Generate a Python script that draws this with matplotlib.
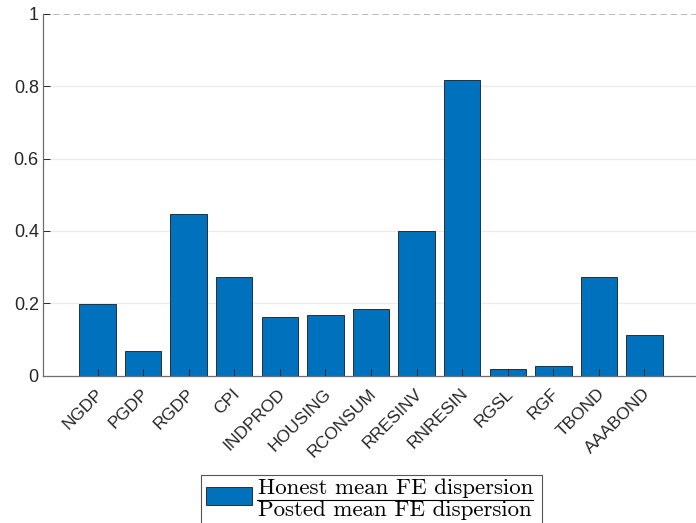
import matplotlib
matplotlib.use("Agg")
import matplotlib.pyplot as plt
import matplotlib.transforms as mtransforms
from matplotlib.patches import Rectangle
from matplotlib.lines import Line2D
import numpy as np

# Series codes along the x axis
categories = ["NGDP", "PGDP", "RGDP", "CPI", "INDPROD", "HOUSING", "RCONSUM",
              "RRESINV", "RNRESIN", "RGSL", "RGF", "TBOND", "AAABOND"]
# Ratio of honest to posted mean forecast-error dispersion
ratio = [0.197, 0.067, 0.448, 0.273, 0.163, 0.167, 0.183,
         0.400, 0.818, 0.018, 0.026, 0.273, 0.112]
yticks = [0, 0.2, 0.4, 0.6, 0.8, 1]
ytick_labels = ["0", "0.2", "0.4", "0.6", "0.8", "1"]
legend_num = "Honest mean FE dispersion"
legend_den = "Posted mean FE dispersion"

plt.rcParams["font.family"] = ["Liberation Sans", "DejaVu Sans"]

BAR_COLOR = "#0072BD"
W, H = 696, 523
fig = plt.figure(figsize=(W / 100, H / 100), dpi=100)
ax = fig.add_axes([43 / W, 147.3 / H, (W - 43) / W, 362 / H])

x = np.arange(1, len(categories) + 1)
ax.bar(x, ratio, width=0.8, color=BAR_COLOR, edgecolor="#1a1a1a",
       linewidth=0.6, zorder=1)

ax.set_xlim(-0.196, 14.13)
ax.set_ylim(0, 1)

# light horizontal grid behind the bars
for yv in yticks[1:-1]:
    ax.axhline(yv, color="#ebebeb", linewidth=1.0, zorder=0.5)
ax.axhline(1, color="#b3b3b3", linewidth=1.3, linestyle=(0, (3.5, 2.2)), zorder=0.6)

ax.set_xticks(x)
ax.set_yticks(yticks)
ax.set_yticklabels(ytick_labels, fontsize=13, color="#262626")
ax.tick_params(axis="both", direction="in", length=5, width=0.7, color="#262626")
ax.tick_params(axis="x", pad=11)
ax.tick_params(axis="y", pad=3)
ax.set_xticklabels(categories, rotation=45, ha="right", va="center",
                   rotation_mode="anchor", fontsize=12.5, color="#262626")
shift = mtransforms.ScaledTranslation(3 / 100, 0, fig.dpi_scale_trans)
for lbl in ax.get_xticklabels():
    lbl.set_transform(lbl.get_transform() + shift)

for side in ("top", "right"):
    ax.spines[side].set_visible(False)
for side in ("left", "bottom"):
    ax.spines[side].set_color("#6e6e6e")
    ax.spines[side].set_linewidth(0.9)


# Legend box with a stacked fraction label, laid out in figure pixels
def fx(px):
    return px / W


def fy(py):
    return 1 - py / H


fig.patches.append(Rectangle((fx(200.5), fy(530)), fx(541.5) - fx(200.5),
                             fy(475) - fy(530), transform=fig.transFigure,
                             facecolor="white", edgecolor="#555555",
                             linewidth=0.8, zorder=3))
fig.patches.append(Rectangle((fx(206), fy(505)), fx(252.3) - fx(206),
                             fy(486.7) - fy(505), transform=fig.transFigure,
                             facecolor=BAR_COLOR, edgecolor="#1a1a1a",
                             linewidth=0.6, zorder=4))
fig.text(fx(258), fy(494), legend_num, family="cmr10", fontsize=16.5,
         ha="left", va="baseline", color="black", zorder=4)
fig.text(fx(258), fy(516), legend_den, family="cmr10", fontsize=16.5,
         ha="left", va="baseline", color="black", zorder=4)
fig.lines.append(Line2D([fx(257), fx(533)], [fy(500.3), fy(500.3)],
                        transform=fig.transFigure, color="black",
                        linewidth=0.8, zorder=4))

fig.savefig("out.png", dpi=100)
